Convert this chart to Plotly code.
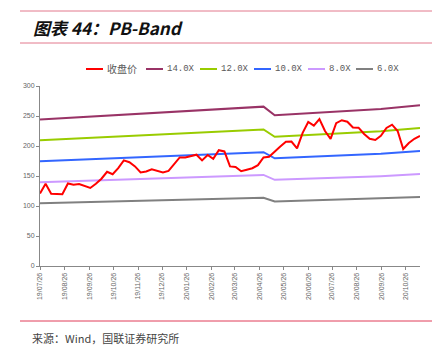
import pandas as pd
import plotly.graph_objects as go

# ---------------- data ----------------
close_start = "2019-07-26"          # weekly closes (Fridays)
close_values = [
    121, 137, 120.5, 120, 119.5, 137.5, 135.5, 136.5, 133, 130,
    137, 145.5, 157, 153, 163, 176, 173, 166, 156, 157.5,
    161, 158, 156, 158.5, 169, 181, 181, 183.5, 185.5, 176,
    185, 178.5, 193, 191, 166, 165, 158, 160.5, 163, 168,
    181, 182, 191, 199, 207, 207.5, 196, 222, 240, 234,
    245, 225, 212, 238, 243, 240.5, 231, 230.5, 220, 212,
    210, 217, 230, 235.5, 225, 195, 205, 212, 216.7,
]

band_dates = ["2019-07-26", "2020-05-01", "2020-05-15", "2020-07-17", "2020-09-25", "2020-11-13"]
band_14x = [244.3, 265.6, 251.3, 256.2, 261.8, 268.1]
band_12x = [209.4, 227.6, 215.4, 219.6, 224.4, 229.8]
band_10x = [174.5, 189.7, 179.5, 183.0, 187.0, 191.5]
band_8x = [139.6, 151.8, 143.6, 146.4, 149.6, 153.2]
band_6x = [104.7, 113.8, 107.7, 109.8, 112.2, 114.9]

tick_dates = ["2019-07-26", "2019-08-26", "2019-09-26", "2019-10-26", "2019-11-26",
              "2019-12-26", "2020-01-26", "2020-02-26", "2020-03-26", "2020-04-26",
              "2020-05-26", "2020-06-26", "2020-07-26", "2020-08-26", "2020-09-26",
              "2020-10-26"]
tick_labels = [d[2:].replace("-", "/") for d in tick_dates]

series_names = ["收盘价", "14.0X", "12.0X", "10.0X", "8.0X", "6.0X"]
series_colors = ["#ff0000", "#993366", "#99cc00", "#3366ff", "#cc99ff", "#808080"]

close_dates = pd.date_range(close_start, periods=len(close_values), freq="7D")

# ---------------- figure ----------------
W, H = 432, 352
ML, MR, MT, MB = 40, 12, 86, 86
PW, PH = W - ML - MR, H - MT - MB


def px(x):
    return (x - ML) / PW


def py(y):
    return (H - MB - y) / PH


fig = go.Figure()
bands = [band_14x, band_12x, band_10x, band_8x, band_6x]
for name, col, vals in zip(series_names[1:], series_colors[1:], bands):
    fig.add_trace(go.Scatter(x=band_dates, y=vals, mode="lines", name=name,
                             line=dict(color=col, width=2), showlegend=False))
fig.add_trace(go.Scatter(x=close_dates, y=close_values, mode="lines", name=series_names[0],
                         line=dict(color=series_colors[0], width=2), showlegend=False))

shapes = []
annotations = []
# header / footer rules
for yy, col in ((11, "#e2788c"), (43, "#e2788c"), (321, "#e03c58")):
    shapes.append(dict(type="line", xref="paper", yref="paper", x0=px(20), x1=px(432),
                       y0=py(yy), y1=py(yy), line=dict(color=col, width=1)))

annotations.append(dict(xref="paper", yref="paper", x=px(31), y=py(27), xanchor="left",
                        yanchor="middle", showarrow=False, text="<b><i>图表 44：PB-Band</i></b>",
                        font=dict(family="Noto Sans CJK SC, Liberation Sans", size=17, color="#111")))
annotations.append(dict(xref="paper", yref="paper", x=px(30), y=py(338), xanchor="left",
                        yanchor="middle", showarrow=False, text="来源：Wind，国联证券研究所",
                        font=dict(family="Noto Sans CJK SC, Liberation Sans", size=11, color="#444")))

# legend (manual)
leg_x = [86, 146, 200, 254, 308, 356]
for i, (name, col) in enumerate(zip(series_names, series_colors)):
    x0 = leg_x[i]
    shapes.append(dict(type="line", xref="paper", yref="paper", x0=px(x0), x1=px(x0 + 17),
                       y0=py(69), y1=py(69), line=dict(color=col, width=2)))
    fam = "Noto Sans CJK SC" if i == 0 else "Liberation Mono"
    size = 10 if i == 0 else 9
    annotations.append(dict(xref="paper", yref="paper", x=px(x0 + 19), y=py(69), xanchor="left",
                            yanchor="middle", showarrow=False, text=name,
                            font=dict(family=fam, size=size, color="#595959")))

fig.update_layout(
    width=W, height=H, margin=dict(l=ML, r=MR, t=MT, b=MB),
    paper_bgcolor="white", plot_bgcolor="white",
    showlegend=False, shapes=shapes, annotations=annotations,
)
fig.update_xaxes(type="date", range=["2019-07-26", "2020-11-13"], tickvals=tick_dates,
                 ticktext=tick_labels, tickangle=-90, showgrid=False, zeroline=False,
                 showline=True, linecolor="#888", linewidth=1, ticks="outside", ticklen=3,
                 tickcolor="#888", tickfont=dict(family="Liberation Sans", size=7, color="#666"))
fig.update_yaxes(range=[0, 300], dtick=50, showgrid=False, zeroline=False, showline=True,
                 linecolor="#888", linewidth=1, ticks="outside", ticklen=3, tickcolor="#888",
                 tickfont=dict(family="Liberation Sans", size=7, color="#666"))

fig.write_html("out.html")
